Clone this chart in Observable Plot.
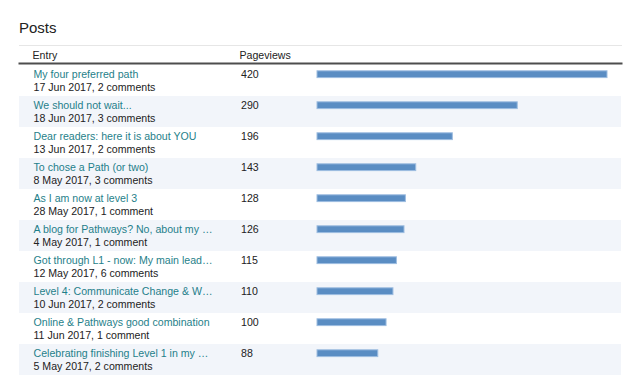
<!DOCTYPE html>
<html><head><meta charset="utf-8">
<script src="https://cdn.jsdelivr.net/npm/d3@7"></script>
<script src="https://cdn.jsdelivr.net/npm/@observablehq/plot@0.6"></script>
<style>
body{margin:0;background:#fff;font-family:"Liberation Sans",Arial,sans-serif;}
#title{height:40px;box-sizing:border-box;padding:20px 0 0 19px;font-size:15px;line-height:15px;color:#222;}
#chart svg{display:block;}
</style></head><body>
<div id="title">Posts</div>
<div id="chart"></div>
<script>
const columns = ["Entry", "Pageviews"];
const titles = [
  "My four preferred path",
  "We should not wait...",
  "Dear readers: here it is about YOU",
  "To chose a Path (or two)",
  "As I am now at level 3",
  "A blog for Pathways? No, about my …",
  "Got through L1 - now: My main lead…",
  "Level 4: Communicate Change & W…",
  "Online & Pathways good combination",
  "Celebrating finishing Level 1 in my …"
];
const dates = ["17 Jun 2017", "18 Jun 2017", "13 Jun 2017", "8 May 2017", "28 May 2017",
  "4 May 2017", "12 May 2017", "10 Jun 2017", "11 Jun 2017", "5 May 2017"];
const comments = [2, 3, 2, 3, 1, 1, 6, 2, 1, 2];
const pageviews = [420, 290, 196, 143, 128, 126, 115, 110, 100, 88];

const rows = titles.map((t, i) => ({
  id: i,
  title: t,
  sub: `${dates[i]}, ${comments[i]} comment${comments[i] === 1 ? "" : "s"}`,
  views: pageviews[i]
}));

const rowH = 31.2;
const chart = Plot.plot({
  width: 640,
  height: 347,
  marginTop: 24,
  marginBottom: 11,
  marginLeft: 19,
  marginRight: 19,
  style: {fontFamily: '"Liberation Sans", Arial, sans-serif', fontSize: "10.6px", background: "#fff", color: "#222"},
  x: {domain: [0, d3.max(pageviews)], range: [317, 607], axis: null},
  y: {domain: rows.map(d => d.id), axis: null, padding: 0},
  marks: [
    Plot.cell(rows.filter(d => d.id % 2 === 1), {y: "id", fill: "#f2f5fa"}),
    Plot.frame({anchor: "top", stroke: "#e6e6e6", dy: -19}),
    Plot.frame({anchor: "top", stroke: "#4d4d4d", strokeWidth: 2, dy: -1}),
    Plot.barX(rows, {x: "views", y: "id", fill: "#5a8dc3", stroke: "#9dbde0", strokeWidth: 1, insetTop: 5.8, insetBottom: rowH - 5.8 - 7}),
    Plot.text(rows, {y: "id", text: "title", frameAnchor: "left", textAnchor: "start", lineAnchor: "middle", dx: 14, dy: -6, fill: "#1f7f8a"}),
    Plot.text(rows, {y: "id", text: "sub", frameAnchor: "left", textAnchor: "start", lineAnchor: "middle", dx: 14, dy: 7, fill: "#222"}),
    Plot.text(rows, {y: "id", text: d => String(d.views), frameAnchor: "left", textAnchor: "start", lineAnchor: "middle", dx: 221.5, dy: -6, fill: "#222"}),
    Plot.text([columns[0]], {text: d => d, frameAnchor: "top-left", textAnchor: "start", lineAnchor: "middle", dx: 13, dy: -9.4, fill: "#222"}),
    Plot.text([columns[1]], {text: d => d, frameAnchor: "top-left", textAnchor: "start", lineAnchor: "middle", dx: 220, dy: -9.4, fill: "#222"})
  ]
});
document.getElementById("chart").appendChild(chart);
</script>
</body></html>
